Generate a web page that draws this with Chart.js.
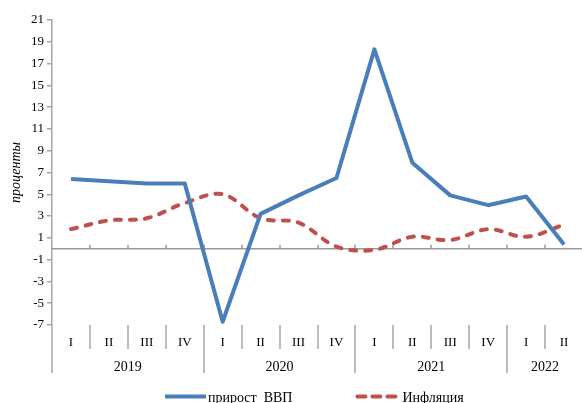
<!DOCTYPE html>
<html><head><meta charset="utf-8">
<script src="https://cdn.jsdelivr.net/npm/chart.js@4.4.1/dist/chart.umd.min.js"></script>
<style>html,body{margin:0;padding:0;overflow:hidden;background:#fff}canvas{display:block}</style>
</head><body>
<canvas id="c" width="583" height="403"></canvas>
<script>
const quarters = ['I','II','III','IV','I','II','III','IV','I','II','III','IV','I','II'];
const years = ['2019','2020','2021','2022'];
const quartersPerYear = [4, 4, 4, 2];
const gdpGrowth = [6.4, 6.2, 6.0, 6.0, -6.7, 3.2, 4.9, 6.5, 18.3, 7.9, 4.9, 4.0, 4.8, 0.4];
const inflation = [1.8, 2.6, 2.8, 4.2, 5.0, 2.8, 2.4, 0.2, -0.1, 1.1, 0.8, 1.8, 1.1, 2.2];
const yTickValues = [-7, -5, -3, -1, 1, 3, 5, 7, 9, 11, 13, 15, 17, 19, 21];
const seriesNames = ['прирост  ВВП', 'Инфляция'];

const SERIF = "'Liberation Serif', 'Times New Roman', serif";
const AXIS_GRAY = '#a6a6a6';

const decorPlugin = {
  id: 'decor',
  beforeDatasetsDraw(chart) {
    const {ctx, chartArea, scales: {x, y}} = chart;
    const y0 = y.getPixelForValue(0);
    const half = (x.getPixelForValue(1) - x.getPixelForValue(0)) / 2;
    ctx.save();
    ctx.strokeStyle = '#999999';
    ctx.lineWidth = 1.5;
    ctx.beginPath();
    ctx.moveTo(chartArea.left, y0);
    ctx.lineTo(chartArea.right, y0);
    for (let i = 1; i <= quarters.length; i++) {
      const bx = Math.round(x.getPixelForValue(i) - half);
      ctx.moveTo(bx, y0);
      ctx.lineTo(bx, y0 - 4);
    }
    ctx.stroke();
    ctx.restore();
  },
  afterDraw(chart) {
    const {ctx, chartArea, scales: {x}} = chart;
    const half = (x.getPixelForValue(1) - x.getPixelForValue(0)) / 2;
    const bottom = chartArea.bottom;
    ctx.save();
    ctx.strokeStyle = AXIS_GRAY;
    ctx.lineWidth = 1.5;
    const yearStarts = [];
    let acc = 0;
    quartersPerYear.forEach(n => { yearStarts.push(acc); acc += n; });
    ctx.beginPath();
    for (let i = 0; i <= quarters.length; i++) {
      const bx = Math.round(x.getPixelForValue(i) - half);
      const isYear = yearStarts.includes(i) || i === quarters.length;
      ctx.moveTo(bx, bottom);
      ctx.lineTo(bx, bottom + (isYear ? 48 : 24));
    }
    ctx.stroke();
    ctx.fillStyle = '#000';
    ctx.font = '14px ' + SERIF;
    ctx.textAlign = 'center';
    ctx.textBaseline = 'middle';
    years.forEach((yr, k) => {
      const s = yearStarts[k], n = quartersPerYear[k];
      const left = x.getPixelForValue(s) - half;
      const right = x.getPixelForValue(s + n - 1) + half;
      ctx.fillText(yr, (left + right) / 2, bottom + 42);
    });
    // legend
    const ly = 396.5;
    let lx = chartArea.left + 113;
    ctx.font = '14px ' + SERIF;
    ctx.textAlign = 'left';
    chart.data.datasets.forEach((ds, i) => {
      const dashed = ds.borderDash && ds.borderDash.length;
      ctx.beginPath();
      ctx.strokeStyle = ds.borderColor;
      ctx.lineWidth = ds.borderWidth;
      ctx.lineCap = dashed ? 'round' : 'butt';
      ctx.setLineDash(dashed ? [8, 7] : []);
      ctx.moveTo(lx + (dashed ? 2 : 0), ly);
      ctx.lineTo(lx + 41, ly);
      ctx.stroke();
      ctx.setLineDash([]);
      ctx.fillStyle = '#000';
      const tx = lx + 42 + (dashed ? 5 : 1);
      ctx.fillText(ds.label, tx, ly + 1.5);
      lx = tx + ctx.measureText(ds.label).width + 63;
    });
    ctx.restore();
  }
};

new Chart(document.getElementById('c'), {
  type: 'line',
  data: {
    labels: quarters,
    datasets: [
      {
        label: seriesNames[0],
        data: gdpGrowth,
        borderColor: '#4a7ebb',
        borderWidth: 4,
        pointRadius: 0,
        tension: 0,
        borderJoinStyle: 'round'
      },
      {
        label: seriesNames[1],
        data: inflation,
        borderColor: '#c0504d',
        borderWidth: 4,
        borderDash: [6, 9],
        borderCapStyle: 'round',
        pointRadius: 0,
        tension: 0.35
      }
    ]
  },
  options: {
    responsive: false,
    devicePixelRatio: 1,
    animation: false,
    layout: {padding: {top: 20, right: 0, bottom: 22, left: 0}},
    plugins: {legend: {display: false}, tooltip: {enabled: false}},
    scales: {
      x: {
        type: 'category',
        offset: true,
        border: {display: false},
        grid: {display: false, drawTicks: false},
        ticks: {padding: 10, color: '#000', font: {family: SERIF, size: 13}, maxRotation: 0, autoSkip: false},
        afterFit: s => { s.height = 56; }
      },
      y: {
        min: -7,
        max: 21,
        afterBuildTicks: s => { s.ticks = yTickValues.map(v => ({value: v})); },
        border: {display: true, color: AXIS_GRAY, width: 1.5},
        grid: {drawOnChartArea: false, drawTicks: true, tickLength: 5, color: AXIS_GRAY, lineWidth: 1.5},
        ticks: {padding: 3, color: '#000', font: {family: SERIF, size: 13}},
        title: {display: true, text: 'проценты', color: '#000', font: {family: SERIF, size: 14, style: 'italic'}, padding: {top: 8, bottom: 0}},
        afterFit: s => { s.width = 52; }
      }
    }
  },
  plugins: [decorPlugin]
});
</script>
</body></html>
